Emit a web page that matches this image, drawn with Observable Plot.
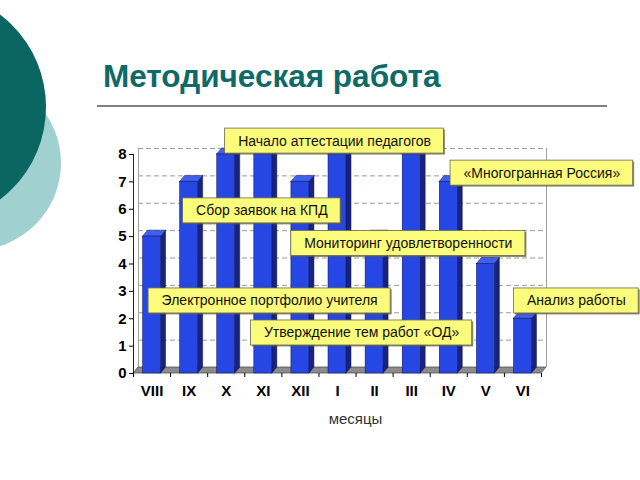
<!DOCTYPE html>
<html><head><meta charset="utf-8">
<script src="https://cdn.jsdelivr.net/npm/d3@7"></script>
<script src="https://cdn.jsdelivr.net/npm/@observablehq/plot@0.6"></script>
<style>
body{margin:0;width:640px;height:480px;overflow:hidden;background:#fff;font-family:"Liberation Sans",Arial,sans-serif;position:relative}
.c{position:absolute;border-radius:50%}
#header{position:relative;height:115px}
#title{position:absolute;left:103px;top:61px;font-size:31.5px;line-height:31.5px;font-weight:bold;color:#0e6a66;white-space:nowrap}
#rule{position:absolute;left:97px;top:105px;width:510px;height:2px;background:#808080}
#chart{position:relative}
</style></head><body>
<div class="c" style="left:-113px;top:76px;width:174px;height:174px;background:#a0d0d0"></div>
<div class="c" style="left:-186px;top:-9px;width:232px;height:232px;background:#0b6661"></div>
<div id="header"><div id="title">Методическая работа</div><div id="rule"></div></div>
<div id="chart"></div>
<script>
const months = ["VIII","IX","X","XI","XII","I","II","III","IV","V","VI"];
const counts = [5,7,8,8,7,8,5,8,7,4,2];
const yTicks = [0,1,2,3,4,5,6,7,8];
const calloutLabels = ["Начало аттестации педагогов","Сбор заявок на КПД","«Многогранная Россия»","Мониторинг удовлетворенности","Электронное портфолио учителя","Утверждение тем работ «ОД»","Анализ работы"];
const calloutX = [4.92, 2.96, 10.51, 6.91, 3.17, 5.65, 11.44];
const calloutY = [8.49, 5.94, 7.32, 4.75, 2.65, 1.48, 2.65];
const axisTitle = "месяцы";

const W = 640, H = 365, mL = 133, mR = 99, mT = 39, mB = 107;
const n = months.length, yMax = d3.max(yTicks);
const kx = (W - mL - mR) / n, ky = (H - mT - mB) / yMax;
const hw = 9 / kx, dX = 5 / kx, dY = 6 / ky;
const x0 = -0.5, x1 = n - 0.5;

const rows = months.map((m, i) => ({i, m, v: counts[i]}));
const sideFaces = rows.flatMap(d => [
  {id: d.i, x: d.i + hw, y1: 0, y2: d.v},
  {id: d.i, x: d.i + hw + dX, y1: dY, y2: d.v + dY}]);
const topFaces = rows.flatMap(d => [
  {id: d.i, x: d.i - hw, y1: d.v, y2: d.v},
  {id: d.i, x: d.i - hw + dX, y1: d.v, y2: d.v + dY},
  {id: d.i, x: d.i + hw, y1: d.v, y2: d.v + dY},
  {id: d.i, x: d.i + hw + dX, y1: d.v + dY, y2: d.v + dY}]);
const floorFace = [
  {x: x0, y1: 0, y2: 0}, {x: x0 + dX, y1: 0, y2: dY},
  {x: x1, y1: 0, y2: dY}, {x: x1 + dX, y1: dY, y2: dY}];

const fs = 14, padX = 13;
const ctx = document.createElement("canvas").getContext("2d");
ctx.font = `${fs}px "Liberation Sans"`;
const callouts = calloutLabels.map((t, j) => ({
  t, x: calloutX[j], y: calloutY[j],
  hx: (ctx.measureText(t).width / 2 + padX) / kx, hy: 12.5 / ky}));
const box = {x1: d => d.x - d.hx, x2: d => d.x + d.hx, y1: d => d.y - d.hy, y2: d => d.y + d.hy};

const chart = Plot.plot({
  width: W, height: H, marginLeft: mL, marginRight: mR, marginTop: mT, marginBottom: mB,
  style: {background: "transparent", fontFamily: "'Liberation Sans', Arial, sans-serif", fontSize: "14px", color: "#000"},
  x: {domain: [x0, x1]},
  y: {domain: [0, yMax]},
  marks: [
    Plot.ruleY(yTicks.slice(1), {y: d => d + dY, x1: x0 + dX, x2: x1 + dX, stroke: "#9a9a9a", strokeDasharray: "5,3", strokeOpacity: 1}),
    Plot.ruleX([x0 + dX, x1 + dX], {y1: dY, y2: yMax + dY, stroke: "#a0a0a0", strokeOpacity: 1}),
    Plot.areaY(floorFace, {x: "x", y1: "y1", y2: "y2", fill: "#8c8c8c", stroke: "#444", strokeWidth: 0.7}),
    Plot.ruleX([x0], {y1: 0, y2: yMax, stroke: "#222", strokeOpacity: 1}),
    Plot.axisY({ticks: yTicks, tickSize: 4, tickPadding: 3, fontWeight: "bold", fontSize: 15, label: null}),
    Plot.axisX({ticks: months.map((_, i) => i - 0.5).concat([x1]), tickSize: 4, tickFormat: () => "", label: null}),
    Plot.axisX({ticks: months.map((_, i) => i), tickFormat: i => months[i], tickSize: 0, tickPadding: 12, fontWeight: "bold", fontSize: 15, label: null}),
    Plot.text([axisTitle], {frameAnchor: "bottom", dx: 18, dy: 50, fontSize: 15, fill: "#333"}),
    Plot.areaY(sideFaces, {x: "x", y1: "y1", y2: "y2", z: "id", fill: "#17237f", stroke: "#0a1050", strokeWidth: 0.5}),
    Plot.areaY(topFaces, {x: "x", y1: "y1", y2: "y2", z: "id", fill: "#3f60ee", stroke: "#0a1050", strokeWidth: 0.5}),
    Plot.rect(rows, {x1: d => d.i - hw, x2: d => d.i + hw, y1: 0, y2: "v", fill: "#2747e4", stroke: "#0a1050", strokeWidth: 0.5}),
    Plot.rect(callouts, {...box, fill: "#5a5a3a", fillOpacity: 0.7, dx: 1.5, dy: 1.5}),
    Plot.rect(callouts, {...box, fill: "#fbfb7c", stroke: "#6a6a50", strokeWidth: 0.8}),
    Plot.text(callouts, {x: "x", y: "y", text: "t", fontSize: fs, fill: "#111"})
  ]
});
document.getElementById("chart").append(chart);
</script>
</body></html>
